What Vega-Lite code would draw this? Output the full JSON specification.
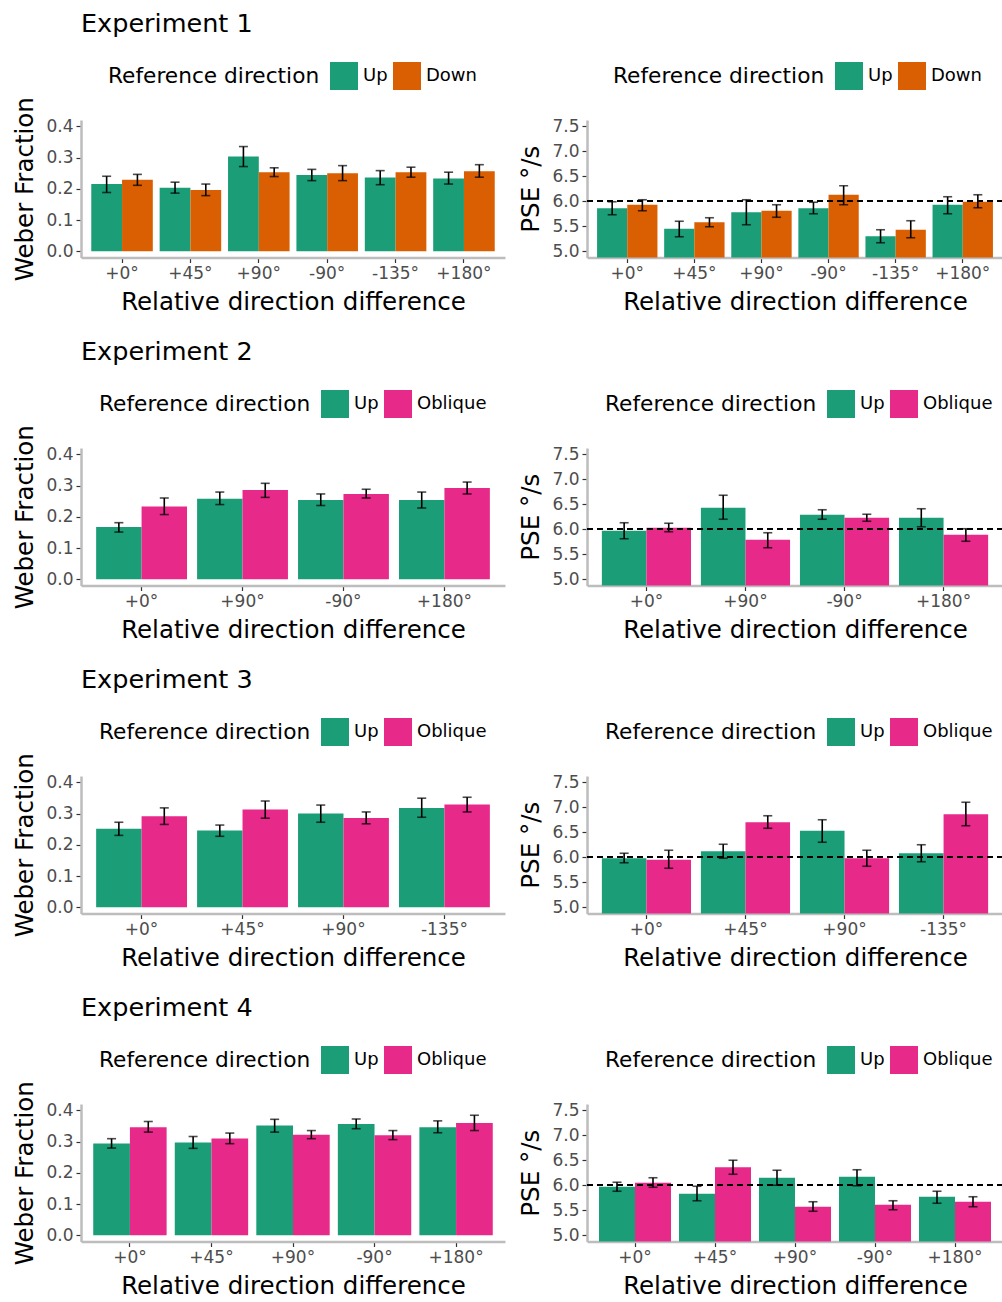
{
"$schema": "https://vega.github.io/schema/vega-lite/v6.json",
"padding": {"left": 12, "top": 11, "right": 0, "bottom": 4},
"datasets": {
"e1w": [
{"c":"+0°","d":"Up","m":0.215,"lo":0.188,"hi":0.240},{"c":"+0°","d":"Down","m":0.229,"lo":0.211,"hi":0.246},
{"c":"+45°","d":"Up","m":0.203,"lo":0.186,"hi":0.221},{"c":"+45°","d":"Down","m":0.196,"lo":0.178,"hi":0.215},
{"c":"+90°","d":"Up","m":0.303,"lo":0.271,"hi":0.335},{"c":"+90°","d":"Down","m":0.253,"lo":0.239,"hi":0.267},
{"c":"-90°","d":"Up","m":0.244,"lo":0.226,"hi":0.262},{"c":"-90°","d":"Down","m":0.250,"lo":0.226,"hi":0.274},
{"c":"-135°","d":"Up","m":0.236,"lo":0.213,"hi":0.258},{"c":"-135°","d":"Down","m":0.253,"lo":0.237,"hi":0.269},
{"c":"+180°","d":"Up","m":0.233,"lo":0.215,"hi":0.253},{"c":"+180°","d":"Down","m":0.256,"lo":0.237,"hi":0.277}],
"e1p": [
{"c":"+0°","d":"Up","m":5.86,"lo":5.73,"hi":5.99},{"c":"+0°","d":"Down","m":5.93,"lo":5.81,"hi":6.03},
{"c":"+45°","d":"Up","m":5.45,"lo":5.29,"hi":5.60},{"c":"+45°","d":"Down","m":5.58,"lo":5.49,"hi":5.67},
{"c":"+90°","d":"Up","m":5.78,"lo":5.53,"hi":6.03},{"c":"+90°","d":"Down","m":5.81,"lo":5.68,"hi":5.93},
{"c":"-90°","d":"Up","m":5.86,"lo":5.75,"hi":5.98},{"c":"-90°","d":"Down","m":6.13,"lo":5.93,"hi":6.31},
{"c":"-135°","d":"Up","m":5.30,"lo":5.17,"hi":5.43},{"c":"-135°","d":"Down","m":5.43,"lo":5.27,"hi":5.61},
{"c":"+180°","d":"Up","m":5.93,"lo":5.75,"hi":6.09},{"c":"+180°","d":"Down","m":5.99,"lo":5.87,"hi":6.13}],
"e2w": [
{"c":"+0°","d":"Up","m":0.167,"lo":0.151,"hi":0.181},{"c":"+0°","d":"Oblique","m":0.233,"lo":0.207,"hi":0.260},
{"c":"+90°","d":"Up","m":0.258,"lo":0.239,"hi":0.279},{"c":"+90°","d":"Oblique","m":0.286,"lo":0.262,"hi":0.307},
{"c":"-90°","d":"Up","m":0.254,"lo":0.236,"hi":0.273},{"c":"-90°","d":"Oblique","m":0.273,"lo":0.260,"hi":0.288},
{"c":"+180°","d":"Up","m":0.254,"lo":0.228,"hi":0.279},{"c":"+180°","d":"Oblique","m":0.292,"lo":0.273,"hi":0.311}],
"e2p": [
{"c":"+0°","d":"Up","m":5.97,"lo":5.81,"hi":6.13},{"c":"+0°","d":"Oblique","m":6.03,"lo":5.95,"hi":6.12},
{"c":"+90°","d":"Up","m":6.43,"lo":6.20,"hi":6.68},{"c":"+90°","d":"Oblique","m":5.79,"lo":5.63,"hi":5.93},
{"c":"-90°","d":"Up","m":6.29,"lo":6.20,"hi":6.39},{"c":"-90°","d":"Oblique","m":6.23,"lo":6.16,"hi":6.30},
{"c":"+180°","d":"Up","m":6.23,"lo":6.05,"hi":6.41},{"c":"+180°","d":"Oblique","m":5.89,"lo":5.76,"hi":6.01}],
"e3w": [
{"c":"+0°","d":"Up","m":0.251,"lo":0.230,"hi":0.272},{"c":"+0°","d":"Oblique","m":0.291,"lo":0.265,"hi":0.318},
{"c":"+45°","d":"Up","m":0.246,"lo":0.227,"hi":0.263},{"c":"+45°","d":"Oblique","m":0.313,"lo":0.285,"hi":0.340},
{"c":"+90°","d":"Up","m":0.300,"lo":0.272,"hi":0.327},{"c":"+90°","d":"Oblique","m":0.286,"lo":0.267,"hi":0.305},
{"c":"-135°","d":"Up","m":0.318,"lo":0.288,"hi":0.349},{"c":"-135°","d":"Oblique","m":0.329,"lo":0.305,"hi":0.352}],
"e3p": [
{"c":"+0°","d":"Up","m":5.98,"lo":5.89,"hi":6.08},{"c":"+0°","d":"Oblique","m":5.95,"lo":5.78,"hi":6.14},
{"c":"+45°","d":"Up","m":6.12,"lo":5.98,"hi":6.26},{"c":"+45°","d":"Oblique","m":6.70,"lo":6.58,"hi":6.83},
{"c":"+90°","d":"Up","m":6.53,"lo":6.30,"hi":6.75},{"c":"+90°","d":"Oblique","m":5.98,"lo":5.82,"hi":6.14},
{"c":"-135°","d":"Up","m":6.08,"lo":5.91,"hi":6.25},{"c":"-135°","d":"Oblique","m":6.86,"lo":6.63,"hi":7.10}],
"e4w": [
{"c":"+0°","d":"Up","m":0.294,"lo":0.279,"hi":0.309},{"c":"+0°","d":"Oblique","m":0.346,"lo":0.330,"hi":0.364},
{"c":"+45°","d":"Up","m":0.297,"lo":0.278,"hi":0.316},{"c":"+45°","d":"Oblique","m":0.310,"lo":0.293,"hi":0.327},
{"c":"+90°","d":"Up","m":0.351,"lo":0.330,"hi":0.371},{"c":"+90°","d":"Oblique","m":0.322,"lo":0.309,"hi":0.335},
{"c":"-90°","d":"Up","m":0.356,"lo":0.341,"hi":0.372},{"c":"-90°","d":"Oblique","m":0.320,"lo":0.306,"hi":0.335},
{"c":"+180°","d":"Up","m":0.346,"lo":0.328,"hi":0.366},{"c":"+180°","d":"Oblique","m":0.359,"lo":0.335,"hi":0.384}],
"e4p": [
{"c":"+0°","d":"Up","m":5.97,"lo":5.88,"hi":6.06},{"c":"+0°","d":"Oblique","m":6.05,"lo":5.96,"hi":6.15},
{"c":"+45°","d":"Up","m":5.83,"lo":5.69,"hi":5.98},{"c":"+45°","d":"Oblique","m":6.36,"lo":6.22,"hi":6.50},
{"c":"+90°","d":"Up","m":6.15,"lo":6.00,"hi":6.30},{"c":"+90°","d":"Oblique","m":5.57,"lo":5.48,"hi":5.67},
{"c":"-90°","d":"Up","m":6.17,"lo":5.99,"hi":6.31},{"c":"-90°","d":"Oblique","m":5.61,"lo":5.51,"hi":5.69},
{"c":"+180°","d":"Up","m":5.77,"lo":5.64,"hi":5.88},{"c":"+180°","d":"Oblique","m":5.67,"lo":5.57,"hi":5.77}]
},
"spacing": 25,
"resolve": {"scale": {"color": "independent", "x": "independent", "y": "independent", "xOffset": "independent"}, "legend": {"color": "independent"}},
"vconcat": [
{"spacing": 13, "resolve": {"scale": {"color": "independent", "x": "independent", "y": "independent", "xOffset": "independent"}, "legend": {"color": "independent"}},
 "hconcat": [
 {"width": 424, "height": 137.5, "title": {"text": "Experiment 1"}, "data": {"name": "e1w"},
  "encoding": {"x": {"field": "c", "type": "nominal", "sort": ["+0°","+45°","+90°","-90°","-135°","+180°"], "scale": {"paddingInner": 0.1, "paddingOuter": 0.15}, "axis": {"title": "Relative direction difference"}},
   "xOffset": {"field": "d", "type": "nominal", "sort": ["Up","Down"], "scale": {"paddingInner": 0, "paddingOuter": 0}}},
  "layer": [
   {"mark": {"type": "bar"}, "encoding": {"y": {"field": "m", "type": "quantitative", "scale": {"domain": [-0.02, 0.42], "nice": false, "zero": false}, "axis": {"title": "Weber Fraction", "values": [0, 0.1, 0.2, 0.3, 0.4], "format": ".1f"}}, "y2": {"datum": 0},
     "color": {"field": "d", "type": "nominal", "scale": {"domain": ["Up","Down"], "range": ["#1b9e77","#d95f02"]}, "legend": {"title": "Reference direction", "orient": "none", "legendX": 27, "legendY": -58}}}},
   {"mark": {"type": "rule", "color": "black", "strokeWidth": 1.6}, "encoding": {"y": {"field": "lo", "type": "quantitative", "scale": {"domain": [-0.02, 0.42], "nice": false, "zero": false}, "axis": {"title": "Weber Fraction", "values": [0, 0.1, 0.2, 0.3, 0.4], "format": ".1f"}}, "y2": {"field": "hi"}}},
   {"mark": {"type": "tick", "color": "black", "size": 9, "thickness": 1.6}, "encoding": {"y": {"field": "lo", "type": "quantitative", "scale": {"domain": [-0.02, 0.42], "nice": false, "zero": false}, "axis": {"title": "Weber Fraction", "values": [0, 0.1, 0.2, 0.3, 0.4], "format": ".1f"}}}},
   {"mark": {"type": "tick", "color": "black", "size": 9, "thickness": 1.6}, "encoding": {"y": {"field": "hi", "type": "quantitative", "scale": {"domain": [-0.02, 0.42], "nice": false, "zero": false}, "axis": {"title": "Weber Fraction", "values": [0, 0.1, 0.2, 0.3, 0.4], "format": ".1f"}}}}
  ]},
 {"width": 416, "height": 137.5, "data": {"name": "e1p"},
  "encoding": {"x": {"field": "c", "type": "nominal", "sort": ["+0°","+45°","+90°","-90°","-135°","+180°"], "scale": {"paddingInner": 0.1, "paddingOuter": 0.15}, "axis": {"title": "Relative direction difference"}},
   "xOffset": {"field": "d", "type": "nominal", "sort": ["Up","Down"], "scale": {"paddingInner": 0, "paddingOuter": 0}}},
  "layer": [
   {"mark": {"type": "bar"}, "encoding": {"y": {"field": "m", "type": "quantitative", "scale": {"domain": [4.875, 7.625], "nice": false, "zero": false}, "axis": {"title": "PSE °/s", "values": [5, 5.5, 6, 6.5, 7, 7.5], "format": ".1f"}}, "y2": {"datum": 4.875},
     "color": {"field": "d", "type": "nominal", "scale": {"domain": ["Up","Down"], "range": ["#1b9e77","#d95f02"]}, "legend": {"title": "Reference direction", "orient": "none", "legendX": 26, "legendY": -58}}}},
   {"mark": {"type": "rule", "color": "black", "strokeWidth": 1.6, "strokeDash": [6, 4]}, "encoding": {"y": {"datum": 6, "type": "quantitative", "scale": {"domain": [4.875, 7.625], "nice": false, "zero": false}, "axis": {"title": "PSE °/s", "values": [5, 5.5, 6, 6.5, 7, 7.5], "format": ".1f"}}, "x": null, "xOffset": null}},
   {"mark": {"type": "rule", "color": "black", "strokeWidth": 1.6}, "encoding": {"y": {"field": "lo", "type": "quantitative", "scale": {"domain": [4.875, 7.625], "nice": false, "zero": false}, "axis": {"title": "PSE °/s", "values": [5, 5.5, 6, 6.5, 7, 7.5], "format": ".1f"}}, "y2": {"field": "hi"}}},
   {"mark": {"type": "tick", "color": "black", "size": 9, "thickness": 1.6}, "encoding": {"y": {"field": "lo", "type": "quantitative", "scale": {"domain": [4.875, 7.625], "nice": false, "zero": false}, "axis": {"title": "PSE °/s", "values": [5, 5.5, 6, 6.5, 7, 7.5], "format": ".1f"}}}},
   {"mark": {"type": "tick", "color": "black", "size": 9, "thickness": 1.6}, "encoding": {"y": {"field": "hi", "type": "quantitative", "scale": {"domain": [4.875, 7.625], "nice": false, "zero": false}, "axis": {"title": "PSE °/s", "values": [5, 5.5, 6, 6.5, 7, 7.5], "format": ".1f"}}}}
  ]}
 ]},
{"spacing": 13, "resolve": {"scale": {"color": "independent", "x": "independent", "y": "independent", "xOffset": "independent"}, "legend": {"color": "independent"}},
 "hconcat": [
 {"width": 424, "height": 137.5, "title": {"text": "Experiment 2"}, "data": {"name": "e2w"},
  "encoding": {"x": {"field": "c", "type": "nominal", "sort": ["+0°","+90°","-90°","+180°"], "scale": {"paddingInner": 0.1, "paddingOuter": 0.15}, "axis": {"title": "Relative direction difference"}},
   "xOffset": {"field": "d", "type": "nominal", "sort": ["Up","Oblique"], "scale": {"paddingInner": 0, "paddingOuter": 0}}},
  "layer": [
   {"mark": {"type": "bar"}, "encoding": {"y": {"field": "m", "type": "quantitative", "scale": {"domain": [-0.02, 0.42], "nice": false, "zero": false}, "axis": {"title": "Weber Fraction", "values": [0, 0.1, 0.2, 0.3, 0.4], "format": ".1f"}}, "y2": {"datum": 0},
     "color": {"field": "d", "type": "nominal", "scale": {"domain": ["Up","Oblique"], "range": ["#1b9e77","#e7298a"]}, "legend": {"title": "Reference direction", "orient": "none", "legendX": 18, "legendY": -58}}}},
   {"mark": {"type": "rule", "color": "black", "strokeWidth": 1.6}, "encoding": {"y": {"field": "lo", "type": "quantitative", "scale": {"domain": [-0.02, 0.42], "nice": false, "zero": false}, "axis": {"title": "Weber Fraction", "values": [0, 0.1, 0.2, 0.3, 0.4], "format": ".1f"}}, "y2": {"field": "hi"}}},
   {"mark": {"type": "tick", "color": "black", "size": 9, "thickness": 1.6}, "encoding": {"y": {"field": "lo", "type": "quantitative", "scale": {"domain": [-0.02, 0.42], "nice": false, "zero": false}, "axis": {"title": "Weber Fraction", "values": [0, 0.1, 0.2, 0.3, 0.4], "format": ".1f"}}}},
   {"mark": {"type": "tick", "color": "black", "size": 9, "thickness": 1.6}, "encoding": {"y": {"field": "hi", "type": "quantitative", "scale": {"domain": [-0.02, 0.42], "nice": false, "zero": false}, "axis": {"title": "Weber Fraction", "values": [0, 0.1, 0.2, 0.3, 0.4], "format": ".1f"}}}}
  ]},
 {"width": 416, "height": 137.5, "data": {"name": "e2p"},
  "encoding": {"x": {"field": "c", "type": "nominal", "sort": ["+0°","+90°","-90°","+180°"], "scale": {"paddingInner": 0.1, "paddingOuter": 0.15}, "axis": {"title": "Relative direction difference"}},
   "xOffset": {"field": "d", "type": "nominal", "sort": ["Up","Oblique"], "scale": {"paddingInner": 0, "paddingOuter": 0}}},
  "layer": [
   {"mark": {"type": "bar"}, "encoding": {"y": {"field": "m", "type": "quantitative", "scale": {"domain": [4.875, 7.625], "nice": false, "zero": false}, "axis": {"title": "PSE °/s", "values": [5, 5.5, 6, 6.5, 7, 7.5], "format": ".1f"}}, "y2": {"datum": 4.875},
     "color": {"field": "d", "type": "nominal", "scale": {"domain": ["Up","Oblique"], "range": ["#1b9e77","#e7298a"]}, "legend": {"title": "Reference direction", "orient": "none", "legendX": 18, "legendY": -58}}}},
   {"mark": {"type": "rule", "color": "black", "strokeWidth": 1.6, "strokeDash": [6, 4]}, "encoding": {"y": {"datum": 6, "type": "quantitative", "scale": {"domain": [4.875, 7.625], "nice": false, "zero": false}, "axis": {"title": "PSE °/s", "values": [5, 5.5, 6, 6.5, 7, 7.5], "format": ".1f"}}, "x": null, "xOffset": null}},
   {"mark": {"type": "rule", "color": "black", "strokeWidth": 1.6}, "encoding": {"y": {"field": "lo", "type": "quantitative", "scale": {"domain": [4.875, 7.625], "nice": false, "zero": false}, "axis": {"title": "PSE °/s", "values": [5, 5.5, 6, 6.5, 7, 7.5], "format": ".1f"}}, "y2": {"field": "hi"}}},
   {"mark": {"type": "tick", "color": "black", "size": 9, "thickness": 1.6}, "encoding": {"y": {"field": "lo", "type": "quantitative", "scale": {"domain": [4.875, 7.625], "nice": false, "zero": false}, "axis": {"title": "PSE °/s", "values": [5, 5.5, 6, 6.5, 7, 7.5], "format": ".1f"}}}},
   {"mark": {"type": "tick", "color": "black", "size": 9, "thickness": 1.6}, "encoding": {"y": {"field": "hi", "type": "quantitative", "scale": {"domain": [4.875, 7.625], "nice": false, "zero": false}, "axis": {"title": "PSE °/s", "values": [5, 5.5, 6, 6.5, 7, 7.5], "format": ".1f"}}}}
  ]}
 ]},
{"spacing": 13, "resolve": {"scale": {"color": "independent", "x": "independent", "y": "independent", "xOffset": "independent"}, "legend": {"color": "independent"}},
 "hconcat": [
 {"width": 424, "height": 137.5, "title": {"text": "Experiment 3"}, "data": {"name": "e3w"},
  "encoding": {"x": {"field": "c", "type": "nominal", "sort": ["+0°","+45°","+90°","-135°"], "scale": {"paddingInner": 0.1, "paddingOuter": 0.15}, "axis": {"title": "Relative direction difference"}},
   "xOffset": {"field": "d", "type": "nominal", "sort": ["Up","Oblique"], "scale": {"paddingInner": 0, "paddingOuter": 0}}},
  "layer": [
   {"mark": {"type": "bar"}, "encoding": {"y": {"field": "m", "type": "quantitative", "scale": {"domain": [-0.02, 0.42], "nice": false, "zero": false}, "axis": {"title": "Weber Fraction", "values": [0, 0.1, 0.2, 0.3, 0.4], "format": ".1f"}}, "y2": {"datum": 0},
     "color": {"field": "d", "type": "nominal", "scale": {"domain": ["Up","Oblique"], "range": ["#1b9e77","#e7298a"]}, "legend": {"title": "Reference direction", "orient": "none", "legendX": 18, "legendY": -58}}}},
   {"mark": {"type": "rule", "color": "black", "strokeWidth": 1.6}, "encoding": {"y": {"field": "lo", "type": "quantitative", "scale": {"domain": [-0.02, 0.42], "nice": false, "zero": false}, "axis": {"title": "Weber Fraction", "values": [0, 0.1, 0.2, 0.3, 0.4], "format": ".1f"}}, "y2": {"field": "hi"}}},
   {"mark": {"type": "tick", "color": "black", "size": 9, "thickness": 1.6}, "encoding": {"y": {"field": "lo", "type": "quantitative", "scale": {"domain": [-0.02, 0.42], "nice": false, "zero": false}, "axis": {"title": "Weber Fraction", "values": [0, 0.1, 0.2, 0.3, 0.4], "format": ".1f"}}}},
   {"mark": {"type": "tick", "color": "black", "size": 9, "thickness": 1.6}, "encoding": {"y": {"field": "hi", "type": "quantitative", "scale": {"domain": [-0.02, 0.42], "nice": false, "zero": false}, "axis": {"title": "Weber Fraction", "values": [0, 0.1, 0.2, 0.3, 0.4], "format": ".1f"}}}}
  ]},
 {"width": 416, "height": 137.5, "data": {"name": "e3p"},
  "encoding": {"x": {"field": "c", "type": "nominal", "sort": ["+0°","+45°","+90°","-135°"], "scale": {"paddingInner": 0.1, "paddingOuter": 0.15}, "axis": {"title": "Relative direction difference"}},
   "xOffset": {"field": "d", "type": "nominal", "sort": ["Up","Oblique"], "scale": {"paddingInner": 0, "paddingOuter": 0}}},
  "layer": [
   {"mark": {"type": "bar"}, "encoding": {"y": {"field": "m", "type": "quantitative", "scale": {"domain": [4.875, 7.625], "nice": false, "zero": false}, "axis": {"title": "PSE °/s", "values": [5, 5.5, 6, 6.5, 7, 7.5], "format": ".1f"}}, "y2": {"datum": 4.875},
     "color": {"field": "d", "type": "nominal", "scale": {"domain": ["Up","Oblique"], "range": ["#1b9e77","#e7298a"]}, "legend": {"title": "Reference direction", "orient": "none", "legendX": 18, "legendY": -58}}}},
   {"mark": {"type": "rule", "color": "black", "strokeWidth": 1.6, "strokeDash": [6, 4]}, "encoding": {"y": {"datum": 6, "type": "quantitative", "scale": {"domain": [4.875, 7.625], "nice": false, "zero": false}, "axis": {"title": "PSE °/s", "values": [5, 5.5, 6, 6.5, 7, 7.5], "format": ".1f"}}, "x": null, "xOffset": null}},
   {"mark": {"type": "rule", "color": "black", "strokeWidth": 1.6}, "encoding": {"y": {"field": "lo", "type": "quantitative", "scale": {"domain": [4.875, 7.625], "nice": false, "zero": false}, "axis": {"title": "PSE °/s", "values": [5, 5.5, 6, 6.5, 7, 7.5], "format": ".1f"}}, "y2": {"field": "hi"}}},
   {"mark": {"type": "tick", "color": "black", "size": 9, "thickness": 1.6}, "encoding": {"y": {"field": "lo", "type": "quantitative", "scale": {"domain": [4.875, 7.625], "nice": false, "zero": false}, "axis": {"title": "PSE °/s", "values": [5, 5.5, 6, 6.5, 7, 7.5], "format": ".1f"}}}},
   {"mark": {"type": "tick", "color": "black", "size": 9, "thickness": 1.6}, "encoding": {"y": {"field": "hi", "type": "quantitative", "scale": {"domain": [4.875, 7.625], "nice": false, "zero": false}, "axis": {"title": "PSE °/s", "values": [5, 5.5, 6, 6.5, 7, 7.5], "format": ".1f"}}}}
  ]}
 ]},
{"spacing": 13, "resolve": {"scale": {"color": "independent", "x": "independent", "y": "independent", "xOffset": "independent"}, "legend": {"color": "independent"}},
 "hconcat": [
 {"width": 424, "height": 137.5, "title": {"text": "Experiment 4"}, "data": {"name": "e4w"},
  "encoding": {"x": {"field": "c", "type": "nominal", "sort": ["+0°","+45°","+90°","-90°","+180°"], "scale": {"paddingInner": 0.1, "paddingOuter": 0.15}, "axis": {"title": "Relative direction difference"}},
   "xOffset": {"field": "d", "type": "nominal", "sort": ["Up","Oblique"], "scale": {"paddingInner": 0, "paddingOuter": 0}}},
  "layer": [
   {"mark": {"type": "bar"}, "encoding": {"y": {"field": "m", "type": "quantitative", "scale": {"domain": [-0.02, 0.42], "nice": false, "zero": false}, "axis": {"title": "Weber Fraction", "values": [0, 0.1, 0.2, 0.3, 0.4], "format": ".1f"}}, "y2": {"datum": 0},
     "color": {"field": "d", "type": "nominal", "scale": {"domain": ["Up","Oblique"], "range": ["#1b9e77","#e7298a"]}, "legend": {"title": "Reference direction", "orient": "none", "legendX": 18, "legendY": -58}}}},
   {"mark": {"type": "rule", "color": "black", "strokeWidth": 1.6}, "encoding": {"y": {"field": "lo", "type": "quantitative", "scale": {"domain": [-0.02, 0.42], "nice": false, "zero": false}, "axis": {"title": "Weber Fraction", "values": [0, 0.1, 0.2, 0.3, 0.4], "format": ".1f"}}, "y2": {"field": "hi"}}},
   {"mark": {"type": "tick", "color": "black", "size": 9, "thickness": 1.6}, "encoding": {"y": {"field": "lo", "type": "quantitative", "scale": {"domain": [-0.02, 0.42], "nice": false, "zero": false}, "axis": {"title": "Weber Fraction", "values": [0, 0.1, 0.2, 0.3, 0.4], "format": ".1f"}}}},
   {"mark": {"type": "tick", "color": "black", "size": 9, "thickness": 1.6}, "encoding": {"y": {"field": "hi", "type": "quantitative", "scale": {"domain": [-0.02, 0.42], "nice": false, "zero": false}, "axis": {"title": "Weber Fraction", "values": [0, 0.1, 0.2, 0.3, 0.4], "format": ".1f"}}}}
  ]},
 {"width": 416, "height": 137.5, "data": {"name": "e4p"},
  "encoding": {"x": {"field": "c", "type": "nominal", "sort": ["+0°","+45°","+90°","-90°","+180°"], "scale": {"paddingInner": 0.1, "paddingOuter": 0.15}, "axis": {"title": "Relative direction difference"}},
   "xOffset": {"field": "d", "type": "nominal", "sort": ["Up","Oblique"], "scale": {"paddingInner": 0, "paddingOuter": 0}}},
  "layer": [
   {"mark": {"type": "bar"}, "encoding": {"y": {"field": "m", "type": "quantitative", "scale": {"domain": [4.875, 7.625], "nice": false, "zero": false}, "axis": {"title": "PSE °/s", "values": [5, 5.5, 6, 6.5, 7, 7.5], "format": ".1f"}}, "y2": {"datum": 4.875},
     "color": {"field": "d", "type": "nominal", "scale": {"domain": ["Up","Oblique"], "range": ["#1b9e77","#e7298a"]}, "legend": {"title": "Reference direction", "orient": "none", "legendX": 18, "legendY": -58}}}},
   {"mark": {"type": "rule", "color": "black", "strokeWidth": 1.6, "strokeDash": [6, 4]}, "encoding": {"y": {"datum": 6, "type": "quantitative", "scale": {"domain": [4.875, 7.625], "nice": false, "zero": false}, "axis": {"title": "PSE °/s", "values": [5, 5.5, 6, 6.5, 7, 7.5], "format": ".1f"}}, "x": null, "xOffset": null}},
   {"mark": {"type": "rule", "color": "black", "strokeWidth": 1.6}, "encoding": {"y": {"field": "lo", "type": "quantitative", "scale": {"domain": [4.875, 7.625], "nice": false, "zero": false}, "axis": {"title": "PSE °/s", "values": [5, 5.5, 6, 6.5, 7, 7.5], "format": ".1f"}}, "y2": {"field": "hi"}}},
   {"mark": {"type": "tick", "color": "black", "size": 9, "thickness": 1.6}, "encoding": {"y": {"field": "lo", "type": "quantitative", "scale": {"domain": [4.875, 7.625], "nice": false, "zero": false}, "axis": {"title": "PSE °/s", "values": [5, 5.5, 6, 6.5, 7, 7.5], "format": ".1f"}}}},
   {"mark": {"type": "tick", "color": "black", "size": 9, "thickness": 1.6}, "encoding": {"y": {"field": "hi", "type": "quantitative", "scale": {"domain": [4.875, 7.625], "nice": false, "zero": false}, "axis": {"title": "PSE °/s", "values": [5, 5.5, 6, 6.5, 7, 7.5], "format": ".1f"}}}}
  ]}
 ]}
],
"config": {
 "font": "DejaVu Sans",
 "view": {"stroke": null},
 "axis": {"grid": false, "domainColor": "#bdbdbd", "domainWidth": 2.5, "tickColor": "#333333", "tickSize": 5, "tickWidth": 1.2, "labelColor": "#4d4d4d", "labelFontSize": 17, "titleFontSize": 24.5, "titleColor": "black", "titleFontWeight": "normal", "labelPadding": 3},
 "axisX": {"labelAngle": 0, "titlePadding": 9},
 "axisY": {"titlePadding": 8},
 "title": {"fontSize": 25.5, "fontWeight": "normal", "anchor": "start", "frame": "group", "color": "black", "offset": 25},
 "legend": {"direction": "horizontal", "titleOrient": "left", "titleLimit": 600, "titleFontSize": 21.7, "titleFontWeight": "normal", "titleColor": "black", "labelFontSize": 18, "labelColor": "black", "symbolType": "square", "symbolSize": 784, "symbolStrokeWidth": 0, "symbolOpacity": 1, "titlePadding": 10, "labelOffset": 5, "columnPadding": 5, "titleAnchor": "middle", "titleBaseline": "middle"}
}
}
